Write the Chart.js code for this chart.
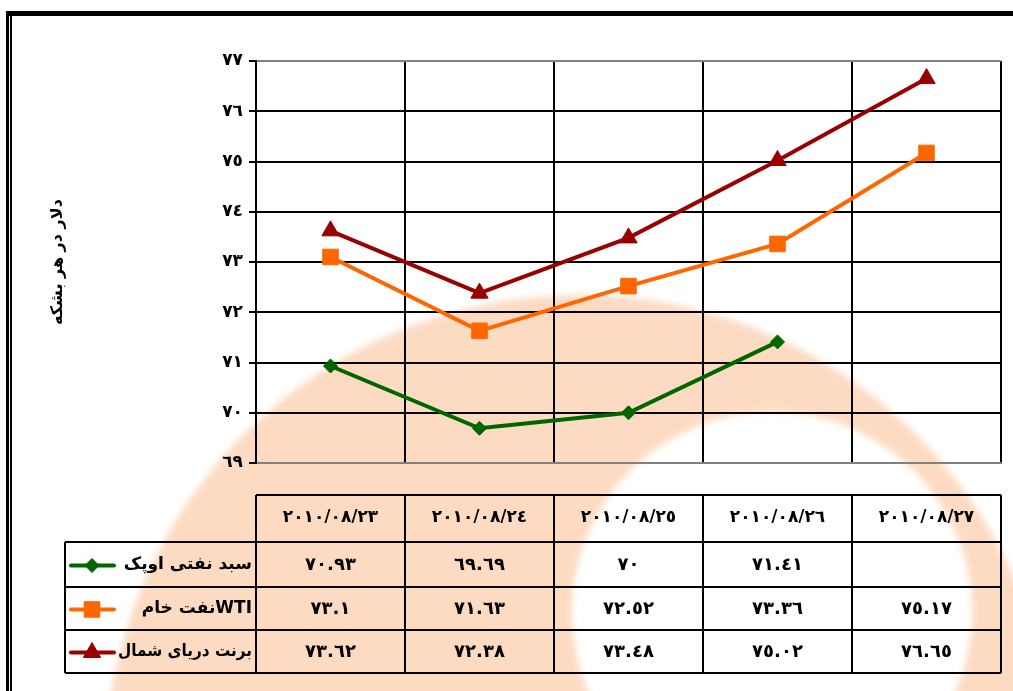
<!DOCTYPE html>
<html>
<head>
<meta charset="utf-8">
<script src="https://cdn.jsdelivr.net/npm/chart.js@4.4.1/dist/chart.umd.min.js"></script>
<style>
html,body{margin:0;padding:0;background:#fff;}
#wrap{width:1013px;height:691px;position:relative;overflow:hidden;}
canvas{display:block;}
</style>
</head>
<body>
<div id="wrap"><canvas id="c" width="1013" height="691"></canvas></div>
<script>
// ---- data ----
const categories = ['٢٠١٠/٠٨/٢٣', '٢٠١٠/٠٨/٢٤', '٢٠١٠/٠٨/٢٥', '٢٠١٠/٠٨/٢٦', '٢٠١٠/٠٨/٢٧'];
const seriesNames = ['سبد نفتی اوپک', 'WTIنفت خام', 'برنت دریای شمال'];
const opecValues = [70.93, 69.69, 70, 71.41, null];
const wtiValues = [73.1, 71.63, 72.52, 73.36, 75.17];
const brentValues = [73.62, 72.38, 73.48, 75.02, 76.65];
const yTickValues = [69, 70, 71, 72, 73, 74, 75, 76, 77];
const yTickLabels = ['٦٩', '٧٠', '٧١', '٧٢', '٧٣', '٧٤', '٧٥', '٧٦', '٧٧'];
const yAxisTitle = 'دلار در هر بشکه';

const AR_DIGITS = ['٠','١','٢','٣','٤','٥','٦','٧','٨','٩'];
function toArabicDigits(v) {
  if (v === null || v === undefined) return '';
  return String(v).replace(/[0-9]/g, d => AR_DIGITS[+d]);
}

const FONT = "'DejaVu Sans', 'Noto Sans', sans-serif";
const PEACH = 'rgb(253,219,194)';

// ---- background watermark + frame ----
const backgroundPlugin = {
  id: 'bg',
  beforeDraw(chart) {
    const ctx = chart.ctx;
    ctx.save();
    ctx.fillStyle = '#fff';
    ctx.fillRect(0, 0, chart.width, chart.height);
    // decorative watermark ring
    ctx.filter = 'blur(3px)';
    ctx.beginPath();
    ctx.arc(580, 770, 475, 0, Math.PI * 2);
    ctx.arc(772, 612, 200, 0, Math.PI * 2, true);
    ctx.fillStyle = PEACH;
    ctx.fill('evenodd');
    ctx.filter = 'none';
    // frame
    ctx.fillStyle = '#000';
    ctx.fillRect(6, 11, chart.width - 6, 5);
    ctx.fillRect(6, 11, 3, chart.height - 11);
    ctx.fillRect(10, 15, 2, chart.height - 15);
    ctx.restore();
  }
};

function drawMarker(ctx, style, r, x, y, color) {
  ctx.save();
  ctx.fillStyle = color;
  ctx.strokeStyle = color;
  ctx.lineWidth = 1;
  ctx.beginPath();
  if (style === 'rectRot') {
    ctx.moveTo(x - r, y); ctx.lineTo(x, y - r); ctx.lineTo(x + r, y); ctx.lineTo(x, y + r);
  } else if (style === 'rect') {
    const s = Math.SQRT1_2 * r;
    ctx.rect(x - s, y - s, 2 * s, 2 * s);
  } else if (style === 'triangle') {
    for (let k = 0; k < 3; k++) {
      const a = k * 2 * Math.PI / 3;
      const px = x + Math.sin(a) * r, py = y - Math.cos(a) * r;
      if (k === 0) ctx.moveTo(px, py); else ctx.lineTo(px, py);
    }
  }
  ctx.closePath();
  ctx.fill();
  ctx.stroke();
  ctx.restore();
}

// ---- data table under the plot ----
const tablePlugin = {
  id: 'dataTable',
  afterDraw(chart) {
    const ctx = chart.ctx;
    const xs = chart.scales.x;
    const area = chart.chartArea;
    const n = categories.length;
    const cw = (area.right - area.left) / n;
    const headTop = area.bottom + 32;
    const rowH = [47, 45, 43, 43];
    const rowTops = [headTop];
    for (let i = 0; i < rowH.length; i++) rowTops.push(rowTops[i] + rowH[i]);
    const legLeft = 65;

    ctx.save();
    ctx.strokeStyle = '#000';
    ctx.lineWidth = 2;
    ctx.beginPath();
    ctx.moveTo(area.left, rowTops[0]); ctx.lineTo(area.right, rowTops[0]);
    for (let r = 1; r < rowTops.length; r++) {
      ctx.moveTo(legLeft, rowTops[r]); ctx.lineTo(area.right, rowTops[r]);
    }
    for (let i = 0; i <= n; i++) {
      const x = i < n ? xs.getPixelForValue(i) - cw / 2 : xs.getPixelForValue(n - 1) + cw / 2;
      ctx.moveTo(x, rowTops[0]); ctx.lineTo(x, rowTops[rowTops.length - 1]);
    }
    ctx.moveTo(legLeft, rowTops[1]); ctx.lineTo(legLeft, rowTops[rowTops.length - 1]);
    ctx.stroke();

    ctx.fillStyle = '#000';
    ctx.textBaseline = 'middle';
    chart.data.datasets.forEach((ds, di) => {
      const yMid = (rowTops[di + 1] + rowTops[di + 2]) / 2 + 1;
      ctx.font = "bold 18px " + FONT;
      ctx.textAlign = 'center';
      ctx.direction = 'ltr';
      ds.data.forEach((v, i) => {
        ctx.fillText(toArabicDigits(v), xs.getPixelForValue(i), yMid);
      });
      ctx.direction = 'rtl';
      ctx.textAlign = 'right';
      ctx.font = "bold 17px " + FONT;
      ctx.fillText(ds.label, area.left - 4, yMid - 1, 134);
      ctx.direction = 'ltr';
      ctx.save();
      ctx.strokeStyle = ds.borderColor;
      ctx.lineWidth = 4;
      ctx.lineCap = 'round';
      ctx.beginPath();
      ctx.moveTo(71, yMid); ctx.lineTo(114, yMid);
      ctx.stroke();
      ctx.restore();
      drawMarker(ctx, ds.pointStyle, ds.pointRadius, 92, yMid, ds.borderColor);
    });
    ctx.restore();
  }
};

const common = {
  borderWidth: 4,
  pointBorderWidth: 1,
  spanGaps: false,
  tension: 0,
  fill: false
};

new Chart(document.getElementById('c'), {
  type: 'line',
  data: {
    labels: categories,
    datasets: [
      Object.assign({}, common, { label: seriesNames[0], data: opecValues, borderColor: '#006600', backgroundColor: '#006600', pointStyle: 'rectRot', pointRadius: 7 }),
      Object.assign({}, common, { label: seriesNames[1], data: wtiValues, borderColor: '#ff6600', backgroundColor: '#ff6600', pointStyle: 'rect', pointRadius: 11 }),
      Object.assign({}, common, { label: seriesNames[2], data: brentValues, borderColor: '#990000', backgroundColor: '#990000', pointStyle: 'triangle', pointRadius: 10 })
    ]
  },
  options: {
    responsive: false,
    animation: false,
    devicePixelRatio: 1,
    layout: { padding: { left: 44, top: 61, right: 11, bottom: 168 } },
    plugins: { legend: { display: false }, tooltip: { enabled: false }, title: { display: false } },
    scales: {
      x: {
        type: 'category',
        offset: true,
        grid: {
          offset: true,
          drawTicks: false,
          lineWidth: 2,
          color: c => (c.index === categories.length ? '#808080' : '#000')
        },
        border: { color: '#808080', width: 2 },
        ticks: {
          padding: 44,
          maxRotation: 0,
          autoSkip: false,
          color: '#000',
          font: { family: FONT, weight: 'bold', size: 17 }
        },
        afterFit: s => { s.height = 60; s.paddingLeft = 0; s.paddingRight = 0; }
      },
      y: {
        min: 69,
        max: 77,
        ticks: {
          stepSize: 1,
          padding: 6,
          color: '#000',
          font: { family: FONT, weight: 'bold', size: 17 },
          callback: v => yTickLabels[yTickValues.indexOf(v)]
        },
        grid: {
          lineWidth: 2,
          tickLength: 7,
          tickColor: '#000',
          color: c => (c.tick && (c.tick.value === 77 || c.tick.value === 69) ? '#808080' : '#000')
        },
        border: { color: '#000', width: 2 },
        title: {
          display: true,
          text: yAxisTitle,
          color: '#000',
          font: { family: FONT, weight: 'bold', size: 16 },
          padding: { top: 4, bottom: 0 }
        },
        afterFit: s => { s.width = 212; s.paddingTop = 0; s.paddingBottom = 0; }
      }
    }
  },
  plugins: [backgroundPlugin, tablePlugin]
});
</script>
</body>
</html>
